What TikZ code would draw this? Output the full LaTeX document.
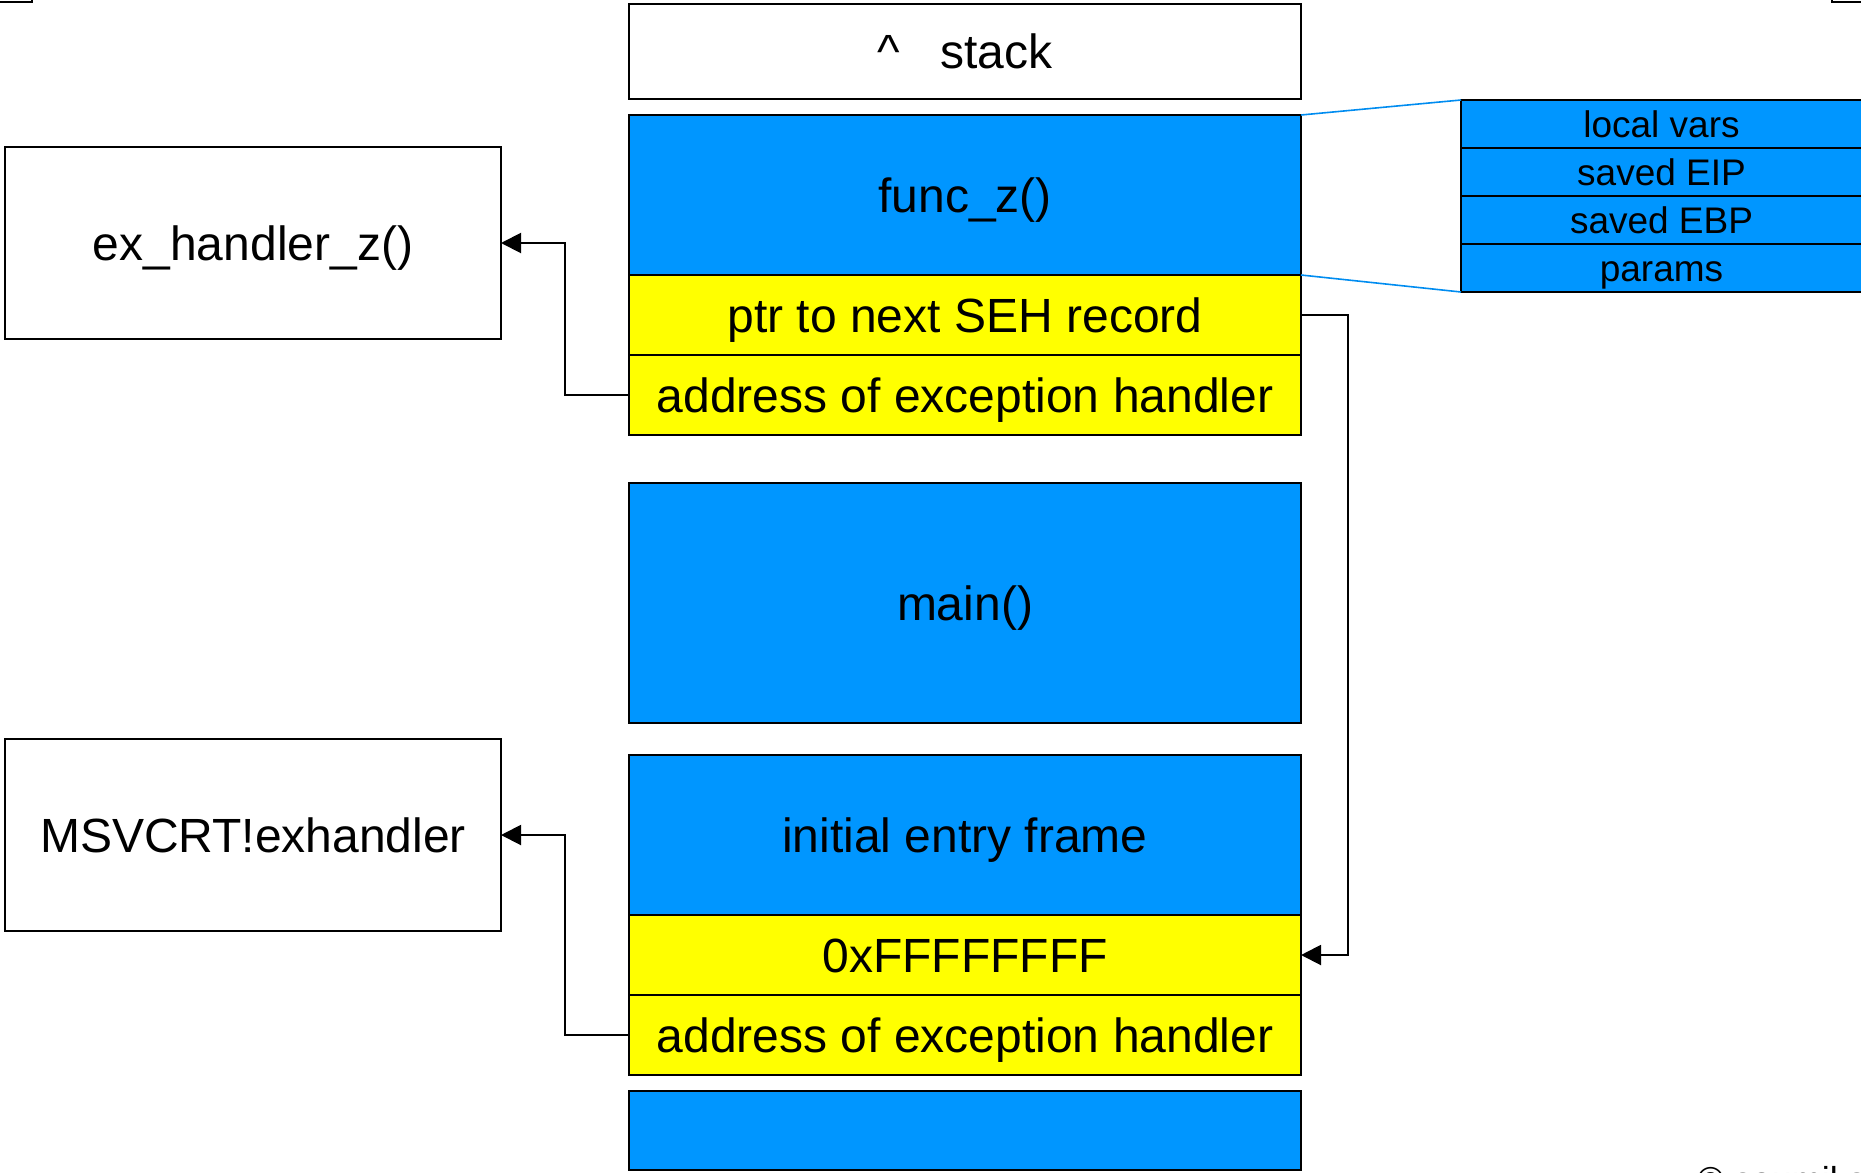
\documentclass[tikz,border=0pt]{standalone}
\usepackage{fontspec}
\setmainfont{Liberation Sans}
\usetikzlibrary{arrows.meta}
\definecolor{frameblue}{RGB}{0,150,255}
\definecolor{sehyellow}{RGB}{255,255,0}
\definecolor{linkblue}{RGB}{0,140,240}

\begin{document}
\begin{tikzpicture}[x=0.5pt,y=-0.5pt,
  bigtext/.style={font=\fontsize{24}{28}\selectfont, text height=22.2pt, text depth=5pt},
  smalltext/.style={font=\fontsize{18.5}{22}\selectfont, text height=17.25pt, text depth=4pt},
  cell/.style={draw=black, line width=1.1pt, inner sep=0pt, outer sep=0pt,
    anchor=north west, bigtext, minimum width=336pt},
  framecell/.style={cell, fill=frameblue},
  sehcell/.style={cell, fill=sehyellow, minimum height=40pt},
  handlerbox/.style={draw=black, line width=1.1pt, inner sep=0pt, outer sep=0pt,
    anchor=north west, bigtext, minimum width=248pt, minimum height=96pt},
  detailcell/.style={draw=black, line width=1pt, fill=frameblue, inner sep=0pt,
    outer sep=0pt, anchor=north west, smalltext,
    minimum width=200.5pt, minimum height=24pt},
  conn/.style={draw=black, line width=1pt, -{Triangle[length=10pt,width=10pt]}},
  zoomline/.style={draw=linkblue, line width=0.8pt}]

\useasboundingbox (0,0) rectangle (1861,1172);

% stack column
\node[cell, minimum height=47.5pt] (stack) at (629,4) {\textasciicircum\ \ \ stack};
\node[framecell, minimum height=80pt] (funcz) at (629,115) {func\_z()};
\node[sehcell] (next1) at (629,275) {ptr to next SEH record};
\node[sehcell] (addr1) at (629,355) {address of exception handler};
\node[framecell, minimum height=120pt] (main) at (629,483) {main()};
\node[framecell, minimum height=80pt] (init) at (629,755) {initial entry frame};
\node[sehcell] (next2) at (629,915) {0xFFFFFFFF};
\node[sehcell] (addr2) at (629,995) {address of exception handler};
\node[framecell, minimum height=39.5pt] (below) at (629,1091) {};

% handlers
\node[handlerbox] (exz) at (5,147) {ex\_handler\_z()};
\node[handlerbox] (msv) at (5,739) {MSVCRT!exhandler};

% frame layout detail
\node[detailcell] (locals) at (1461,100) {local vars};
\node[detailcell] (eip) at (1461,148) {saved EIP};
\node[detailcell] (ebp) at (1461,196) {saved EBP};
\node[detailcell] (params) at (1461,244) {params};
\path[zoomline] (funcz.north east) -- (locals.north west);
\path[zoomline] (funcz.south east) -- (params.south west);

% SEH chain links
\path[conn] (addr1.west) -- ++(-64,0) |- (exz.east);
\path[conn] (addr2.west) -- ++(-64,0) |- (msv.east);
\path[conn] (next1.east) -- ++(47,0) |- (next2.east);

% partly visible neighbours at the edges
\coordinate (tl) at (32,2);
\coordinate (tr) at (1832,2);
\draw[line width=1.1pt] (0,2) -- (tl) -- ++(0,-10);
\draw[line width=1.1pt] (1862,2) -- (tr) -- ++(0,-10);
\node[anchor=north west, inner sep=0pt, font=\fontsize{18}{20}\selectfont] (credit) at (1697,1166) {© saumil shah};
\end{tikzpicture}
\end{document}
